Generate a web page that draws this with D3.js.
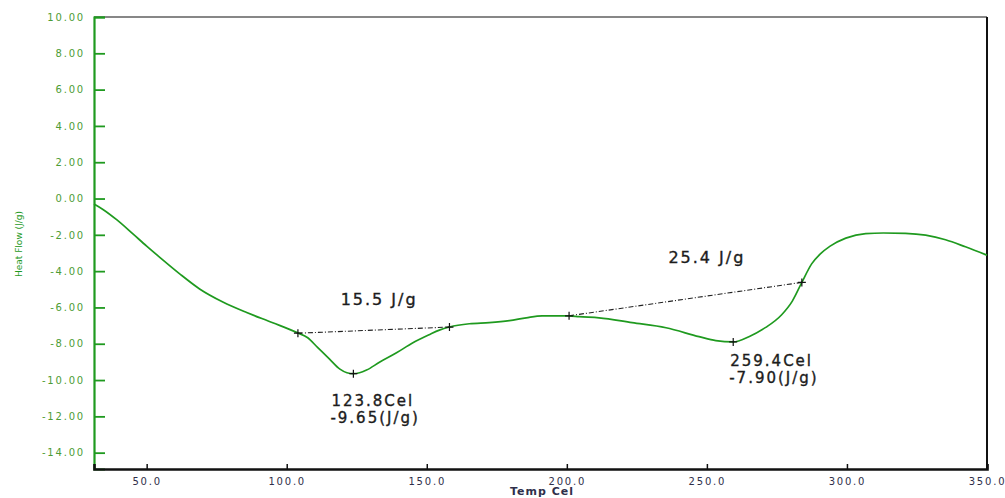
<!DOCTYPE html>
<html>
<head>
<meta charset="utf-8">
<script src="https://cdn.jsdelivr.net/npm/d3@7/dist/d3.min.js"></script>
<style>
  html, body { margin: 0; padding: 0; background: #fff; }
  svg { display: block; }
</style>
</head>
<body>
<svg id="chart" width="1005" height="498"></svg>
<script>
// DSC trace: temperature (Cel) vs heat flow (J/g)
const temps = [31.2, 34.4, 39.4, 45.1, 50.0, 55.0, 61.8, 68.9, 77.2, 85.7, 95.0, 103.9,
  107.5, 111.0, 115.3, 119.0, 121.5, 123.8, 126.0, 128.5, 133.1, 139.2, 144.9, 150.9, 154.5, 158.1, 165.2,
  172.3, 179.5, 185.5, 191.2, 200.8, 204.4, 211.5, 223.3, 235.4, 247.2, 253.2, 259.4, 265.0,
  271.0, 276.7, 280.5, 283.9, 287.4, 290.5, 294.0, 299.6, 306.7, 313.0, 320.9, 328.1, 335.2, 342.3, 350.0];
const heatFlow = [-0.30, -0.60, -1.18, -1.95, -2.62, -3.28, -4.15, -4.98, -5.70, -6.28, -6.84, -7.40,
  -7.67, -8.20, -8.85, -9.40, -9.60, -9.65, -9.60, -9.45, -9.02, -8.50, -7.96, -7.50, -7.25, -7.08, -6.90,
  -6.84, -6.73, -6.57, -6.46, -6.46, -6.51, -6.57, -6.84, -7.12, -7.61, -7.83, -7.90, -7.61,
  -7.10, -6.40, -5.65, -4.62, -3.60, -3.05, -2.62, -2.18, -1.93, -1.90, -1.92, -2.02, -2.27, -2.66, -3.12];

// Tick values
const xTicks = [50, 100, 150, 200, 250, 300, 350];
const yTicks = [-14, -12, -10, -8, -6, -4, -2, 0, 2, 4, 6, 8, 10];

// Integration baselines
const baselineStarts = [[104.0, -7.42], [200.8, -6.46]];
const baselineEnds = [[158.1, -7.08], [283.9, -4.62]];
const enthalpyLabels = ["15.5 J/g", "25.4 J/g"];
const enthalpyLabelPos = [[133, -5.85], [250, -3.55]];

// Peak minima
const peakTemps = [123.8, 259.4];
const peakFlows = [-9.65, -7.90];

const fmt = d3.formatLocale({ decimal: ".", thousands: ",", grouping: [3], currency: ["", ""], minus: "-" });

const svg = d3.select("#chart");
const x = d3.scaleLinear().domain([31.2, 350]).range([94, 987]);
const y = d3.scaleLinear().domain([-14.9, 10]).range([469, 17]);

const green = "#1f9a1f";
const labelGreen = "#4d9c35";
const navy = "#2f2f4a";
const font = "'DejaVu Sans', Verdana, sans-serif";

// Frame: top and right in black
svg.append("line").attr("x1", x(31.2)).attr("x2", x(350)).attr("y1", y(10)).attr("y2", y(10))
  .attr("stroke", "#111").attr("stroke-width", 1.2);
svg.append("line").attr("x1", x(350)).attr("x2", x(350)).attr("y1", y(10)).attr("y2", y(-14.9))
  .attr("stroke", "#111").attr("stroke-width", 2);

// Y axis (green, ticks pointing inward)
const yAxis = d3.axisRight(y).tickValues(yTicks).tickSize(11).tickPadding(0).tickFormat(fmt.format(".2f"));
const gy = svg.append("g").attr("transform", `translate(${x(31.2)},0)`).call(yAxis);
gy.select(".domain").attr("stroke", green).attr("stroke-width", 2.2);
gy.selectAll(".tick line").attr("stroke", green).attr("stroke-width", 1.8);
gy.selectAll(".tick text")
  .attr("x", -9).attr("text-anchor", "end")
  .attr("fill", labelGreen)
  .style("font-family", font)
  .style("font-size", "10px").style("letter-spacing", "1.8px");

// X axis (black, ticks pointing inward)
const xAxis = d3.axisBottom(x).tickValues(xTicks).tickSize(-5).tickPadding(0).tickFormat(fmt.format(".1f"));
const gx = svg.append("g").attr("transform", `translate(0,${y(-14.9)})`).call(xAxis);
gx.select(".domain").attr("stroke", "#111").attr("stroke-width", 2.6);
gx.selectAll(".tick line").attr("stroke", "#111").attr("stroke-width", 1.5);
gx.selectAll(".tick text")
  .attr("y", 16).attr("dy", "0")
  .attr("fill", navy)
  .style("font-family", font)
  .style("font-size", "10px").style("letter-spacing", "1.8px");

// Axis titles
svg.append("text").attr("x", 542).attr("y", 495).attr("text-anchor", "middle")
  .attr("fill", navy)
  .style("font-family", font)
  .style("font-size", "11px").style("font-weight", "bold").style("letter-spacing", "1px")
  .text("Temp Cel");
svg.append("text").attr("transform", "translate(22,244) rotate(-90)").attr("text-anchor", "middle")
  .attr("fill", green)
  .style("font-family", font)
  .style("font-size", "9px")
  .text("Heat Flow (J/g)");

// Baselines (dash-dot)
baselineStarts.forEach((s, i) => {
  const e = baselineEnds[i];
  svg.append("line")
    .attr("x1", x(s[0])).attr("y1", y(s[1])).attr("x2", x(e[0])).attr("y2", y(e[1]))
    .attr("stroke", "#222").attr("stroke-width", 1.1).attr("stroke-dasharray", "5,2,1,2");
});

// DSC curve
const pts = temps.map((t, i) => [t, heatFlow[i]]);
svg.append("path").datum(pts)
  .attr("fill", "none").attr("stroke", green).attr("stroke-width", 1.7)
  .attr("d", d3.line().x(d => x(d[0])).y(d => y(d[1])).curve(d3.curveMonotoneX));

// Cross markers at baseline ends and peak minima
const crossPts = baselineStarts.concat(baselineEnds, peakTemps.map((t, i) => [t, peakFlows[i]]));
svg.append("g").selectAll("path").data(crossPts).join("path")
  .attr("d", d => {
    const cx = x(d[0]), cy = y(d[1]);
    return `M${cx - 4},${cy}H${cx + 4}M${cx},${cy - 4}V${cy + 4}`;
  })
  .attr("stroke", "#111").attr("stroke-width", 1.2);

// Enthalpy labels
enthalpyLabels.forEach((txt, i) => {
  svg.append("text")
    .attr("x", x(enthalpyLabelPos[i][0])).attr("y", y(enthalpyLabelPos[i][1]))
    .attr("text-anchor", "middle").attr("fill", "#1c1c1c")
    .attr("stroke", "#1c1c1c").attr("stroke-width", 0.35)
    .style("font-family", font).style("font-size", "16px").style("letter-spacing", "2px")
    .text(txt);
});

// Peak labels, placed below each minimum
const peakLabelDx = [-22, -3];
const peakLabelDy = [32, 24];
peakTemps.forEach((t, i) => {
  const lx = x(t) + peakLabelDx[i];
  const ly = y(peakFlows[i]) + peakLabelDy[i];
  const g = svg.append("text").attr("fill", "#1c1c1c")
    .attr("stroke", "#1c1c1c").attr("stroke-width", 0.35)
    .style("font-family", font).style("font-size", "15px").style("letter-spacing", "2px");
  g.append("tspan").attr("x", lx).attr("y", ly).text(`${fmt.format(".1f")(t)}Cel`);
  g.append("tspan").attr("x", lx - 1).attr("y", ly + 17).text(`${fmt.format(".2f")(peakFlows[i])}(J/g)`);
});
</script>
</body>
</html>
